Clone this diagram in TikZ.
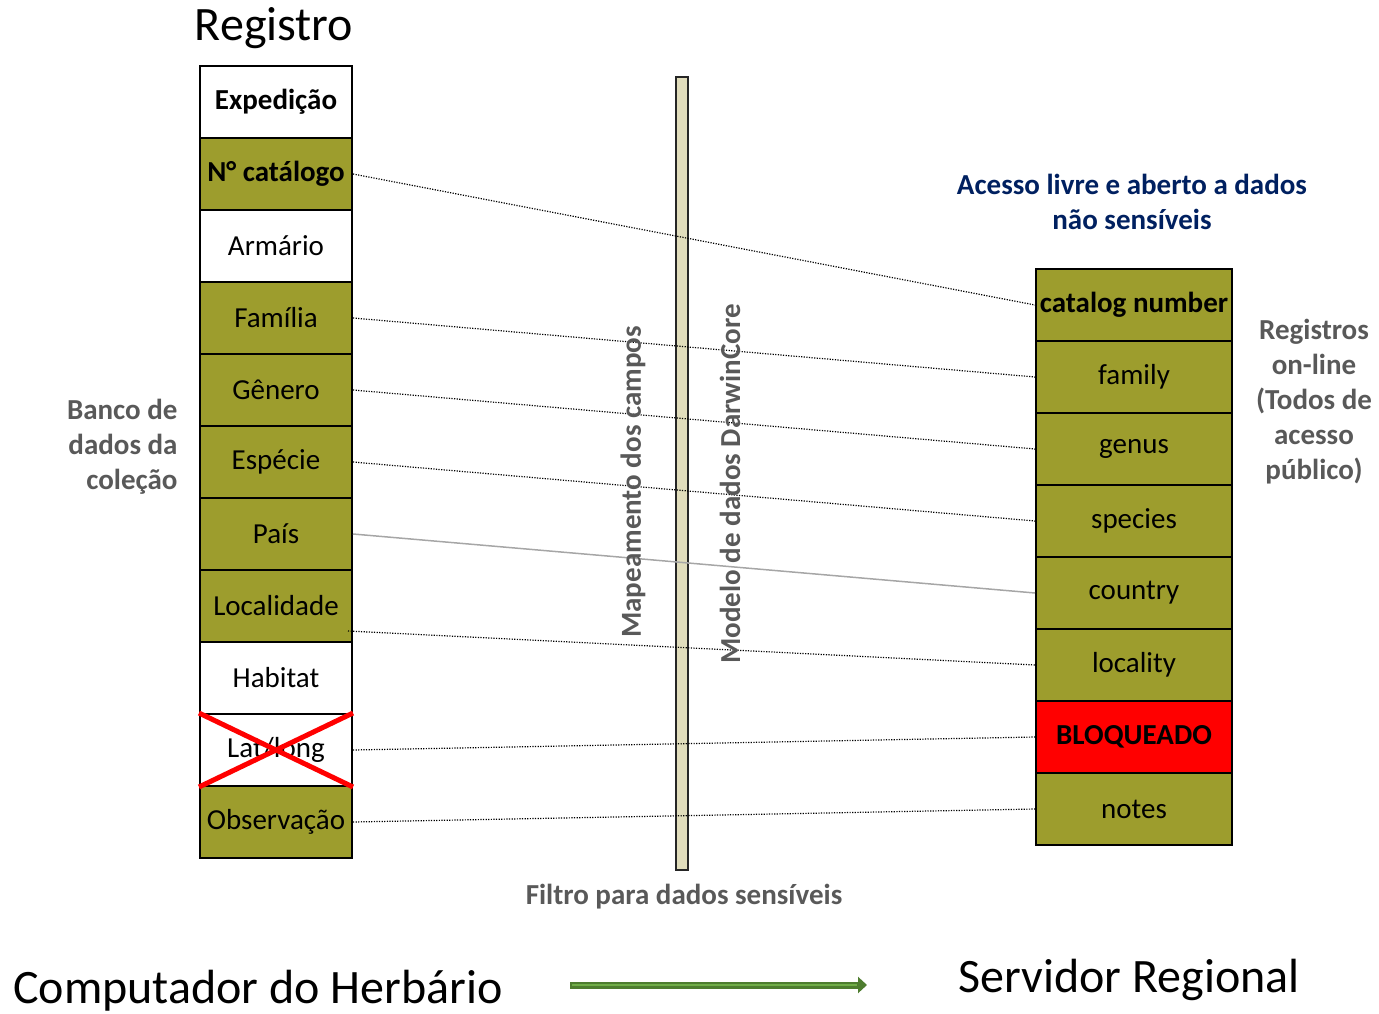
\documentclass[tikz,border=0pt]{standalone}
\usepackage{fontspec}
\setmainfont{Carlito}
\usetikzlibrary{arrows.meta,calc}
\definecolor{oliva}{RGB}{157,157,45}
\definecolor{bege}{RGB}{225,221,188}
\definecolor{cinza}{RGB}{89,89,89}
\definecolor{azulesc}{RGB}{0,32,96}
\definecolor{verdeesc}{RGB}{78,125,47}
\definecolor{verdeclaro}{RGB}{112,173,71}
\begin{document}
\begin{tikzpicture}[x=1pt,y=-1pt,
		campo/.style={draw,line width=2pt,minimum height=72pt,inner sep=0pt,font=\fontsize{29}{32}\selectfont},
		rotulo/.style={text=cinza,font=\fontsize{29}{35}\selectfont\bfseries,align=center},
		ligacao/.style={line width=1.2pt,dash pattern=on 1.2pt off 1.4pt}]
	\useasboundingbox (0,0) rectangle (1379,1014);
	% filtro
	\filldraw[fill=bege,draw=black!85,line width=1.5pt] (676,77) rectangle (688,870);
	% banco de dados da colecao
	\foreach \nome/\texto/\cor [count=\i from 0] in {
			exp/\textbf{Expedição}/white, cat/\textbf{N° catálogo}/oliva, arm/Armário/white,
			fam/Família/oliva, gen/Gênero/oliva, esp/Espécie/oliva, pais/País/oliva,
			loc/Localidade/oliva, hab/Habitat/white, lat/{Lat/long}/white, obs/Observação/oliva}{
		\node[campo,minimum width=152pt,fill=\cor] (\nome) at (276,{102+72*\i}) {\texto};
	}
	% servidor
	\foreach \nome/\texto/\cor [count=\i from 0] in {
			rcat/\textbf{catalog number}/oliva, rfam/family/oliva, rgen/genus/oliva,
			resp/species/oliva, rpais/country/oliva, rloc/locality/oliva,
			rbloq/\textbf{BLOQUEADO}/red, robs/notes/oliva}{
		\node[campo,minimum width=196pt,fill=\cor] (\nome) at (1134,{305+72*\i}) {\texto};
	}
	% campo bloqueado
	\draw[red,line width=5pt] (lat.north west) -- (lat.south east);
	\draw[red,line width=5pt] (lat.south west) -- (lat.north east);
	% mapeamento
	\draw[ligacao] (cat.east) -- (rcat.west);
	\draw[ligacao] (fam.east) -- (rfam.west);
	\draw[ligacao] (gen.east) -- (rgen.west);
	\draw[ligacao] (esp.east) -- (resp.west);
	\draw[black!35,line width=1.5pt] (pais.east) -- (rpais.west);
	\draw[ligacao] ([xshift=-5pt,yshift=-25pt]loc.east) -- (rloc.west);
	\draw[ligacao] (lat.east) -- (rbloq.west);
	\draw[ligacao] (obs.east) -- (robs.west);
	% textos
	\node[font=\fontsize{48}{52}\selectfont] (registro) at (274,28) {Registro};
	\node[rotulo,align=right,anchor=east] (banco) at (181,447) {Banco de\\dados da\\coleção};
	\node[rotulo,rotate=90] (mapa) at (633,482) {Mapeamento dos campos};
	\node[rotulo,rotate=90] (modelo) at (730,484) {Modelo de dados DarwinCore};
	\node[rotulo] (filtro) at (684,897) {Filtro para dados sensíveis};
	\node[rotulo,text=azulesc] (acesso) at (1132,202) {Acesso livre e aberto a dados\\não sensíveis};
	\node[rotulo] (online) at (1314,402) {Registros\\on-line\\(Todos de\\acesso\\público)};
	\node[font=\fontsize{48}{52}\selectfont] (computador) at (258,991) {Computador do Herbário};
	\node[font=\fontsize{48}{52}\selectfont] (servidor) at (1129,980) {Servidor Regional};
	% seta
	\coordinate (sa) at (570,985);
	\coordinate (sb) at (867,985);
	\draw[verdeesc,line width=7pt,-{Triangle[length=9pt,width=16pt]}] (sa) -- (sb);
	\draw[verdeclaro,line width=2.5pt] ([xshift=2pt]sa) -- ([xshift=-10pt]sb);
\end{tikzpicture}
\end{document}
